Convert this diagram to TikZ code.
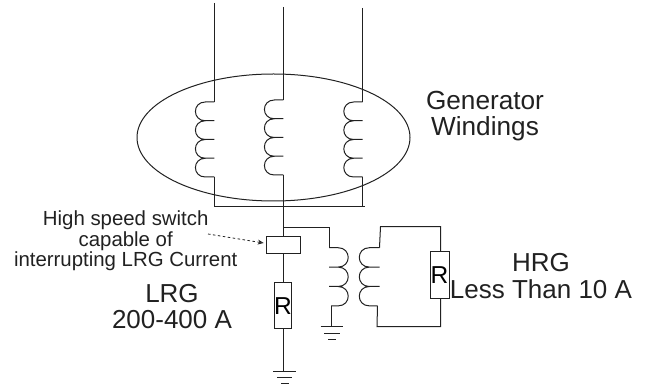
\documentclass[tikz,border=0pt]{standalone}
\usepackage{fontspec}
\setmainfont{Liberation Sans}
\usetikzlibrary{arrows.meta,shapes.geometric}
\definecolor{ink}{gray}{0.13}
\tikzset{
  wire/.style={draw=ink,line width=1pt},
  box/.style={draw=ink,line width=1pt,fill=white,inner sep=0pt,outer sep=0pt},
  lbl/.style={align=center,text=ink,inner sep=0pt},
  bumpL/.style={out=180,in=180,looseness=1.8},
  bumpR/.style={out=0,in=0,looseness=1.8},
}
\newcommand{\coilL}[3]{% x, ytop, pitch: bumps to the left
  \draw[wire] (#1,#2)
  -- ++(-9,0) to[bumpL] ++(0,#3) -- ++(9,0)
  -- ++(-9,0) to[bumpL] ++(0,#3) -- ++(9,0)
  -- ++(-9,0) to[bumpL] ++(0,#3) -- ++(9,0)
  -- ++(-9,0) to[bumpL] ++(0,#3) -- ++(9,0);
}
\begin{document}
\begin{tikzpicture}[x=1pt,y=-1pt]
\useasboundingbox (0,0) rectangle (646,387);
% ellipse
\node[draw=ink,line width=1pt,ellipse,minimum width=273pt,minimum height=127pt,inner sep=0pt] (wind) at (273.5,137.5) {};
% phase ends
\coordinate (atop) at (214.3,3);
\coordinate (btop) at (283.3,7);
\coordinate (ctop) at (362.7,8);
\coordinate (a1) at (214.3,102);
\coordinate (b1) at (283.3,100);
\coordinate (c1) at (362.7,102);
\coordinate (a2) at (214.3,177);
\coordinate (b2) at (283.3,175);
\coordinate (c2) at (362.7,177);
\coordinate (a3) at (214.3,206.5);
\coordinate (c3) at (362.7,206.5);
\coordinate (c4) at (365,206.5);
\draw[wire] (atop) -- (a1);
\draw[wire] (btop) -- (b1);
\draw[wire] (ctop) -- (c1);
\coilL{214.3}{102}{18.75}
\coilL{283.3}{100}{18.75}
\coilL{362.7}{102}{18.75}
\draw[wire] (a2) -- (a3) -- (c4);
\draw[wire] (c2) -- (c3);
% switch and LRG resistor
\node[box,minimum width=34pt,minimum height=16.5pt] (sw) at (283.7,245) {};
\node[box,minimum width=17.7pt,minimum height=46pt,font=\fontsize{24.5}{25}\selectfont] (rl) at (282.9,306) {R};
\coordinate (g1) at (283.3,371.7);
\draw[wire] (b2) -- (sw.north -| b2);
\draw[wire] (sw.south -| b2) -- (rl.north -| b2);
\draw[wire] (rl.south -| b2) -- (g1);
\draw[wire] (273,371.7) -- (296,371.7);
\draw[wire] (277,378) -- (292,378);
\draw[wire] (281,384) -- (289,384);
% HRG primary
\coordinate (t0) at (283.3,228);
\coordinate (t1) at (329,228);
\coordinate (t2) at (329,247.7);
\draw[wire] (t0) -- (t1) -- (t2);
\draw[wire] (t2)
  -- ++(9,0) to[bumpR] ++(0,19.4) -- ++(-9,0)
  -- ++(9,0) to[bumpR] ++(0,19.4) -- ++(-9,0)
  -- ++(9,0) to[bumpR] ++(0,19.4) -- ++(-7,0);
\coordinate (p1) at (331.7,306);
\coordinate (p2) at (331.7,327);
\draw[wire] (p1) -- (p2);
\draw[wire] (320.7,327) -- (343.3,327);
\draw[wire] (324.3,333.5) -- (340,333.5);
\draw[wire] (328.3,340) -- (336.3,340);
% HRG secondary
\coordinate (s1) at (379.5,247.7);
\coordinate (s2) at (380.5,226.7);
\coordinate (s3) at (440.7,226.7);
\coordinate (s4) at (440.7,326.7);
\coordinate (s5) at (377,326.7);
\coordinate (s6) at (377.5,306);
\node[box,minimum width=19pt,minimum height=46.6pt,font=\fontsize{24.5}{25}\selectfont] (rh) at (439.5,275) {R};
\draw[wire] (s1) -- (s2) -- (s3) -- (rh.north -| s3);
\draw[wire] (rh.south -| s3) -- (s4) -- (s5) -- (s6);
\draw[wire] (s1)
  -- ++(-10,0) to[bumpL] ++(0,19.4) -- ++(10,0)
  -- ++(-10,0) to[bumpL] ++(0,19.4) -- ++(10,0)
  -- ++(-10,0) to[bumpL] ++(0,19.4) -- ++(8,0);
% labels
\node[lbl,font=\fontsize{26.2}{26.7}\selectfont] (gw) at (485,116) {Generator\\Windings};
\node[lbl,font=\fontsize{20.4}{20.6}\selectfont] (hs) at (125.7,241) {High speed switch\\capable of\\interrupting LRG Current};
\node[lbl,font=\fontsize{26}{26}\selectfont] (lrg) at (172,307) {LRG\\200-400 A};
\node[lbl,font=\fontsize{26}{26.3}\selectfont] (hrg) at (541,276) {HRG\\Less Than 10 A};
\coordinate (as) at (208,234);
\draw[draw=ink,line width=0.8pt,dash pattern=on 2.5pt off 2.5pt,-{Stealth[length=6pt,width=5pt,open]}] (as) -- ([xshift=-3pt,yshift=2pt]sw.west);
\end{tikzpicture}
\end{document}
